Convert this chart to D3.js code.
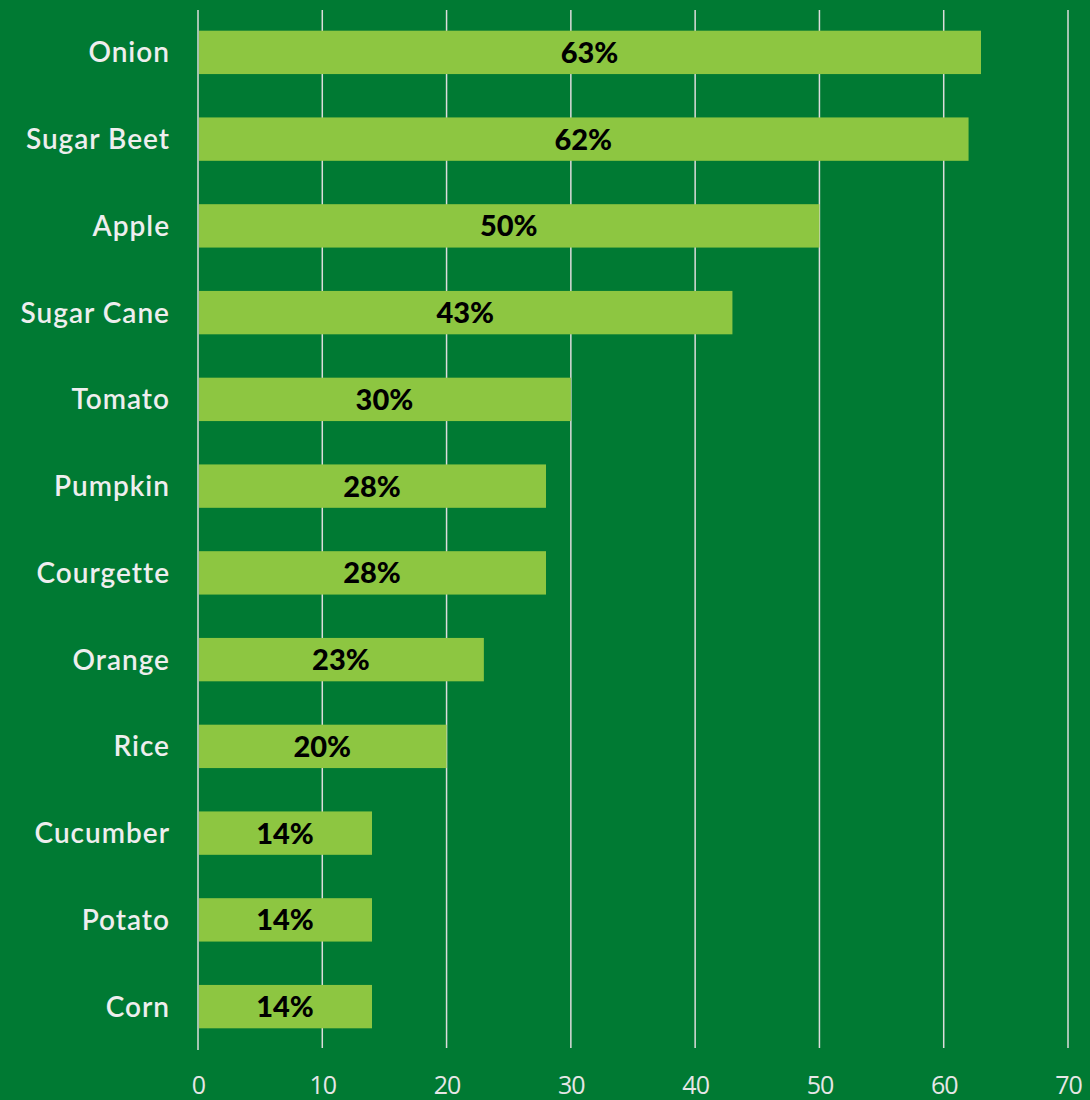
<!DOCTYPE html>
<html><head><meta charset="utf-8">
<script src="https://cdn.jsdelivr.net/npm/d3@7"></script>
<style>html,body{margin:0;padding:0;background:#007a33;}</style>
</head><body><svg id="c" width="1090" height="1100"></svg>
<script>
const categories = ["Onion","Sugar Beet","Apple","Sugar Cane","Tomato","Pumpkin","Courgette","Orange","Rice","Cucumber","Potato","Corn"];
const values = [63,62,50,43,30,28,28,23,20,14,14,14];
const ticks = [0,10,20,30,40,50,60,70];

const svg = d3.select("#c");
svg.append("rect").attr("width",1090).attr("height",1100).attr("fill","#007a33");
const x = d3.scaleLinear().domain([0,70]).range([198,1068]);
const y = d3.scaleBand().domain(categories).range([9,1050]).paddingInner(0.5).paddingOuter(0.25);

// gridlines
svg.append("g").selectAll("line").data(ticks).join("line")
  .attr("x1",d=>x(d)).attr("x2",d=>x(d)).attr("y1",10).attr("y2",d=>d===0?1050:1048)
  .attr("stroke","#dcdcdc").attr("stroke-width",1.5);

// bars
svg.append("g").selectAll("rect").data(values).join("rect")
  .attr("x",x(0)+1).attr("y",(d,i)=>y(categories[i]))
  .attr("width",d=>x(d)-x(0)-1).attr("height",y.bandwidth())
  .attr("fill","#8dc641");

// value labels
svg.append("g").selectAll("text").data(values).join("text")
  .attr("x",d=>(x(0)+x(d))/2).attr("y",(d,i)=>y(categories[i])+y.bandwidth()/2)
  .attr("dy","0.36em").attr("text-anchor","middle")
  .attr("font-family","Lato, sans-serif").attr("font-weight","900").attr("font-size",29)
  .attr("fill","#000").text(d=>d+"%");

// category labels
const yAxis = d3.axisLeft(y).tickSize(0).tickPadding(0);
const ya = svg.append("g").attr("transform","translate(170,0)").call(yAxis);
ya.select(".domain").remove();
ya.selectAll("text").attr("font-family","Lato, sans-serif").attr("font-size",28)
  .attr("font-weight","600").attr("letter-spacing","1px").attr("fill","#eeeeee").attr("dy","0.36em");

// x tick labels
const xAxis = d3.axisBottom(x).tickValues(ticks).tickSize(0).tickPadding(0);
const xa = svg.append("g").attr("transform","translate(0,1076)").call(xAxis);
xa.select(".domain").remove();
xa.selectAll("text").attr("font-family","'Open Sans', sans-serif").attr("font-size",25)
  .attr("letter-spacing","-1px").attr("fill","#e6e6e6").attr("dy","0.71em");
</script></body></html>
